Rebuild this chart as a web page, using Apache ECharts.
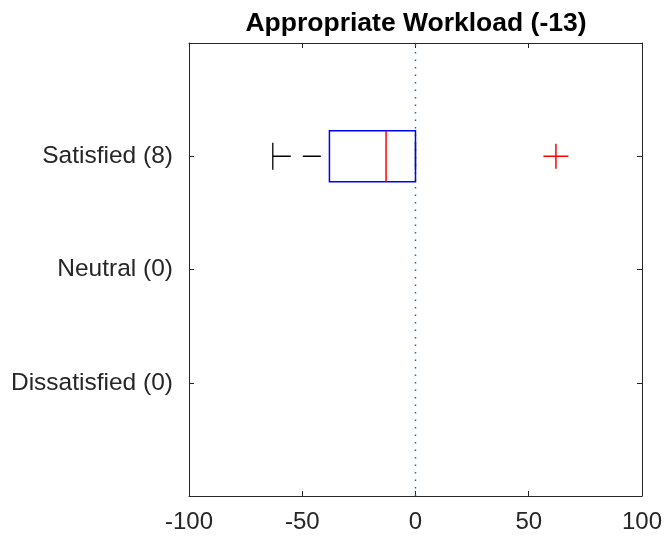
<!DOCTYPE html>
<html>
<head>
<meta charset="utf-8">
<script src="https://cdn.jsdelivr.net/npm/echarts@6/dist/echarts.min.js"></script>
<style>
  html, body { margin: 0; padding: 0; background: #fff; }
  #chart { width: 665px; height: 543px; }
</style>
</head>
<body>
<div id="chart"></div>
<script>
// categories, bottom to top (y positions 1..3)
const categoryLabels = ['Dissatisfied (0)', 'Neutral (0)', 'Satisfied (8)']
const categoryPos = [1, 2, 3]
// [lowerWhisker, q1, median, q3, upperWhisker, yPos]
const boxStats = [
  [-63, -38, -13, 0, 0, 3]
]
// [value, yPos]
const outliers = [
  [62, 3]
]
const xTicks = [-100, -50, 0, 50, 100]
const zeroLine = [[0, 0], [0, 4]]

const font = 'Liberation Sans, Arial, sans-serif'
const axisColor = '#262626'

let chart = echarts.init(document.getElementById('chart'))

function renderBox (params, api) {
  let lo = api.value(0), q1 = api.value(1), med = api.value(2)
  let q3 = api.value(3), hi = api.value(4), y = api.value(5)
  let unit = api.size([0, 1])[1]
  let half = unit * 0.225
  let capHalf = unit * 0.12
  let pLo = api.coord([lo, y]), pQ1 = api.coord([q1, y])
  let pMed = api.coord([med, y]), pQ3 = api.coord([q3, y])
  let pHi = api.coord([hi, y])
  let cy = pQ1[1]
  let whisker = { stroke: '#000', lineWidth: 1.3, lineDash: [18, 12] }
  let cap = { stroke: '#000', lineWidth: 1.3 }
  return {
    type: 'group',
    children: [
      { type: 'line', shape: { x1: pLo[0], y1: cy, x2: pQ1[0], y2: cy }, style: whisker },
      { type: 'line', shape: { x1: pQ3[0], y1: cy, x2: pHi[0], y2: cy }, style: whisker },
      { type: 'line', shape: { x1: pLo[0], y1: cy - capHalf, x2: pLo[0], y2: cy + capHalf }, style: cap },
      { type: 'line', shape: { x1: pHi[0], y1: cy - capHalf, x2: pHi[0], y2: cy + capHalf }, style: cap },
      {
        type: 'rect',
        shape: { x: pQ1[0], y: cy - half, width: pQ3[0] - pQ1[0], height: half * 2 },
        style: { fill: 'none', stroke: '#0000ff', lineWidth: 1.5 }
      },
      { type: 'line', shape: { x1: pMed[0], y1: cy - half, x2: pMed[0], y2: cy + half }, style: { stroke: '#ff0000', lineWidth: 1.5 } }
    ]
  }
}

function renderOutlier (params, api) {
  let p = api.coord([api.value(0), api.value(1)])
  let s = 12.5
  let st = { stroke: '#ff0000', lineWidth: 1.5 }
  return {
    type: 'group',
    children: [
      { type: 'line', shape: { x1: p[0] - s, y1: p[1], x2: p[0] + s, y2: p[1] }, style: st },
      { type: 'line', shape: { x1: p[0], y1: p[1] - s, x2: p[0], y2: p[1] + s }, style: st }
    ]
  }
}

function yLabel (v) {
  let i = categoryPos.indexOf(v)
  return i >= 0 ? categoryLabels[i] : ''
}

function frameAxis (extra) {
  return Object.assign({
    type: 'value',
    splitLine: { show: false },
    axisLine: { show: true, onZero: false, lineStyle: { color: axisColor, width: 1 } },
    axisTick: { show: true, inside: true, length: 5, lineStyle: { color: axisColor } },
    axisLabel: { show: false }
  }, extra)
}

chart.setOption({
  animation: false,
  title: {
    text: 'Appropriate Workload (-13)',
    left: 411,
    top: 5,
    textAlign: 'center',
    textStyle: { fontFamily: font, fontSize: 26.5, fontWeight: 'bold', color: '#000' }
  },
  grid: { left: 189, right: 23, top: 43, bottom: 47 },
  xAxis: [
    frameAxis({
      min: -100, max: 100, interval: 50, position: 'bottom',
      axisLabel: {
        margin: 14,
        fontFamily: font,
        fontSize: 24,
        color: axisColor,
        formatter: v => xTicks.includes(v) ? String(v) : '',
        showMinLabel: true,
        showMaxLabel: true
      }
    }),
    frameAxis({ min: -100, max: 100, interval: 50, position: 'top' })
  ],
  yAxis: [
    frameAxis({
      min: 0, max: 4, interval: 1, position: 'left',
      axisLabel: {
        margin: 16,
        fontFamily: font,
        fontSize: 24.5,
        color: axisColor,
        formatter: yLabel
      }
    }),
    frameAxis({ min: 0, max: 4, interval: 1, position: 'right' })
  ],
  series: [{
    type: 'line',
    data: zeroLine,
    symbol: 'none',
    lineStyle: { color: '#0072bd', width: 1.5, type: [1.5, 6] },
    silent: true,
    z: 1
  }, {
    type: 'custom',
    renderItem: renderBox,
    data: boxStats,
    encode: { x: [0, 1, 2, 3, 4], y: 5 },
    z: 3
  }, {
    type: 'custom',
    renderItem: renderOutlier,
    data: outliers,
    encode: { x: 0, y: 1 },
    z: 3
  }]
})
</script>
</body>
</html>
